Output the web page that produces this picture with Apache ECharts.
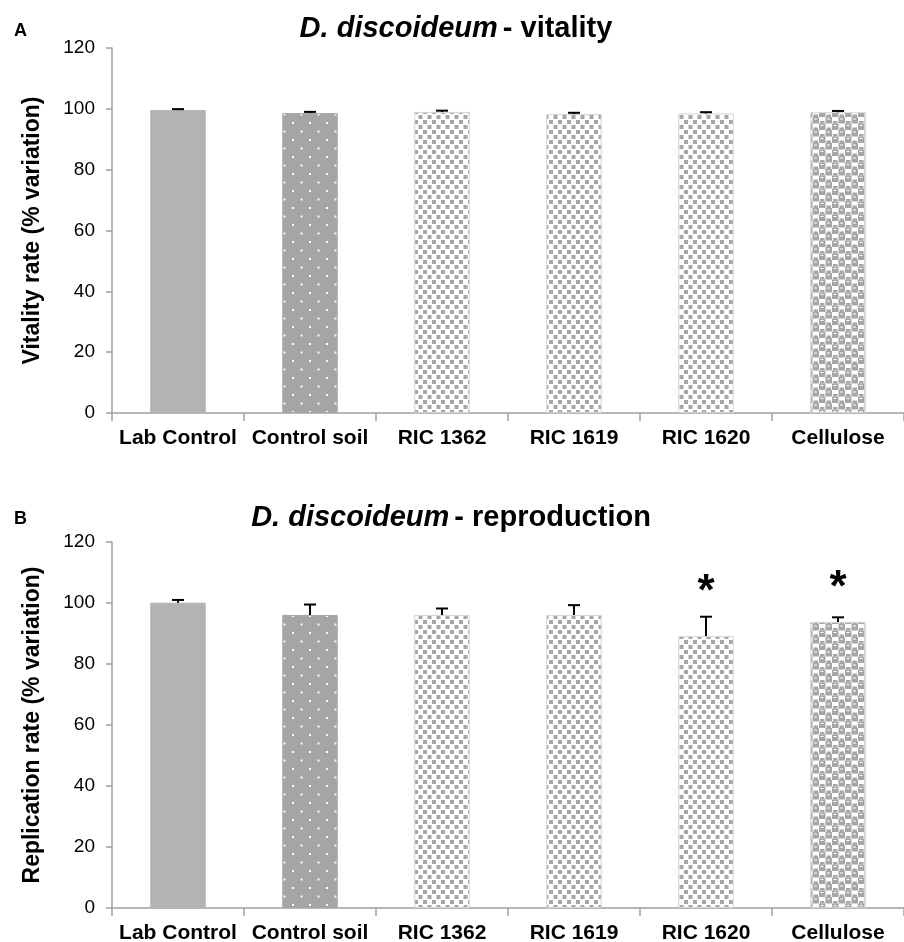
<!DOCTYPE html>
<html>
<head>
<meta charset="utf-8">
<script src="https://cdn.jsdelivr.net/npm/echarts@6/dist/echarts.min.js"></script>
<style>
html,body{margin:0;padding:0;background:#fff;}
#chart{width:904px;height:942px;}
</style>
</head>
<body>
<div id="chart"></div>
<script>
const categories = ['Lab Control', 'Control soil', 'RIC 1362', 'RIC 1619', 'RIC 1620', 'Cellulose'];
const yTicks = { min: 0, max: 120, interval: 20 };
const vitality = [99.6, 98.6, 99.0, 98.3, 98.5, 98.9];
const vitalityErr = [0.3, 0.4, 0.4, 0.4, 0.4, 0.4];
const reproduction = [100.1, 96.1, 96.1, 96.1, 89.2, 93.8];
const reproductionErr = [0.9, 3.4, 2.1, 3.2, 6.3, 1.5];
const reproductionStars = ['', '', '', '', '*', '*'];
const reproductionStarY = [null, null, null, null, 103.2, 104.8];

function makeCanvas(w, h, draw) {
  const c = document.createElement('canvas');
  c.width = w; c.height = h;
  draw(c.getContext('2d'));
  return c;
}
const GRAY = '#a6a6a6';
const solidFill = '#b3b3b3';
const dotsFill = { image: makeCanvas(17, 17, ctx => {
  ctx.fillStyle = '#a5a5a5'; ctx.fillRect(0, 0, 17, 17);
  ctx.fillStyle = '#ffffff';
  ctx.fillRect(3, 3, 2, 2);
  ctx.fillRect(11.5, 11.5, 2, 2);
}), repeat: 'repeat' };
const squaresFill = { image: makeCanvas(9, 10, ctx => {
  ctx.fillStyle = '#ffffff'; ctx.fillRect(0, 0, 9, 10);
  ctx.fillStyle = GRAY;
  ctx.fillRect(0, 0, 4, 4);
  ctx.fillRect(4.5, 5, 4, 4);
}), repeat: 'repeat' };
const celluloseFill = { image: makeCanvas(13, 13, ctx => {
  ctx.fillStyle = '#ffffff'; ctx.fillRect(0, 0, 13, 13);
  ctx.fillStyle = GRAY;
  ctx.fillRect(6.5, 0, 6.5, 6.5);
  ctx.fillRect(0, 6.5, 6.5, 6.5);
  ctx.fillRect(1, 4, 4.5, 2.5);
  ctx.fillRect(7.5, 10.5, 4.5, 2.5);
  ctx.fillStyle = '#ffffff';
  ctx.fillRect(8, 1.5, 3, 1);
  ctx.fillRect(1.5, 8, 3, 1);
}), repeat: 'repeat' };
const fills = [solidFill, dotsFill, squaresFill, squaresFill, squaresFill, celluloseFill];
const borders = ['#b3b3b3', '#a5a5a5', '#d4d4d4', '#d4d4d4', '#d4d4d4', '#d4d4d4'];

const FONT = 'Liberation Sans, Arial, sans-serif';

function barData(vals) {
  return vals.map((v, i) => ({ value: v, itemStyle: { color: fills[i], borderColor: borders[i], borderWidth: 1 } }));
}
function errData(vals, errs) {
  return vals.map((v, i) => [i, v, errs[i]]);
}
function renderErr(params, api) {
  const i = api.value(0);
  const v = api.value(1);
  const e = api.value(2);
  const base = api.coord([i, v]);
  const top = api.coord([i, v + e]);
  const half = 6;
  const children = [
    { type: 'line', shape: { x1: base[0], y1: base[1], x2: top[0], y2: top[1] }, style: { stroke: '#000', lineWidth: 2 } },
    { type: 'line', shape: { x1: top[0] - half, y1: top[1], x2: top[0] + half, y2: top[1] }, style: { stroke: '#000', lineWidth: 2 } }
  ];
  const d = params.dataIndex;
  const star = params.seriesIndex === 3 ? reproductionStars[d] : '';
  if (star) {
    const sp = api.coord([i, reproductionStarY[d]]);
    children.push({ type: 'text', style: { text: star, x: sp[0], y: sp[1], align: 'center', verticalAlign: 'middle', font: 'bold 44px ' + FONT, fill: '#000' } });
  }
  return { type: 'group', children };
}

function xAxis(gi) {
  return {
    type: 'category', gridIndex: gi, data: categories,
    axisLine: { lineStyle: { color: '#a0a0a0', width: 1.5 } },
    axisTick: { show: true, length: 8, lineStyle: { color: '#a0a0a0', width: 1.5 } },
    axisLabel: { color: '#000', fontFamily: FONT, fontWeight: 'bold', fontSize: 21, margin: 15, interval: 0 }
  };
}
function yAxis(gi, name) {
  return {
    type: 'value', gridIndex: gi, min: yTicks.min, max: yTicks.max, interval: yTicks.interval,
    name: name, nameLocation: 'middle', nameGap: 68,
    nameTextStyle: { color: '#000', fontFamily: FONT, fontWeight: 'bold', fontSize: 23 },
    axisLine: { show: true, lineStyle: { color: '#a0a0a0', width: 1.5 } },
    axisTick: { show: true, length: 6, lineStyle: { color: '#a0a0a0', width: 1.5 } },
    splitLine: { show: false },
    axisLabel: { color: '#000', fontFamily: FONT, fontSize: 19, margin: 17 }
  };
}

const titleRich = { i: { fontFamily: FONT, fontSize: 29, fontWeight: 'bold', fontStyle: 'italic', color: '#000' }, b: { fontFamily: FONT, fontSize: 29, fontWeight: 'bold', color: '#000' } };
const chart = echarts.init(document.getElementById('chart'));
chart.setOption({
  animation: false,
  backgroundColor: '#fff',
  title: [
    { text: '{i|D. discoideum} {b|- vitality}', left: 451, top: 9, textAlign: 'center', textStyle: { rich: titleRich } },
    { text: '{i|D. discoideum} {b|- reproduction}', left: 446, top: 498, textAlign: 'center', textStyle: { rich: titleRich } },
    { text: 'A', left: 9, top: 17, textStyle: { fontFamily: FONT, fontSize: 18, fontWeight: 'bold', color: '#000' } },
    { text: 'B', left: 9, top: 505, textStyle: { fontFamily: FONT, fontSize: 18, fontWeight: 'bold', color: '#000' } }
  ],
  grid: [
    { left: 112, top: 48, right: 0, height: 365, containLabel: false, outerBoundsMode: 'none' },
    { left: 112, top: 542, right: 0, height: 366, containLabel: false, outerBoundsMode: 'none' }
  ],
  xAxis: [xAxis(0), xAxis(1)],
  yAxis: [yAxis(0, 'Vitality rate (% variation)'), yAxis(1, 'Replication rate (% variation)')],
  series: [
    { type: 'bar', xAxisIndex: 0, yAxisIndex: 0, data: barData(vitality), barWidth: '42%' },
    { type: 'custom', xAxisIndex: 0, yAxisIndex: 0, data: errData(vitality, vitalityErr), renderItem: renderErr, z: 10 },
    { type: 'bar', xAxisIndex: 1, yAxisIndex: 1, data: barData(reproduction), barWidth: '42%' },
    { type: 'custom', xAxisIndex: 1, yAxisIndex: 1, data: errData(reproduction, reproductionErr), renderItem: renderErr, z: 10 }
  ]
});
</script>
</body>
</html>
